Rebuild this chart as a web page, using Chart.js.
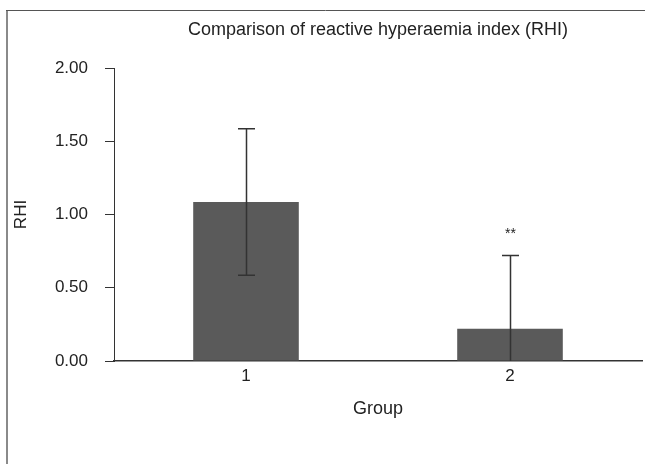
<!DOCTYPE html>
<html>
<head>
<meta charset="utf-8">
<script src="https://cdn.jsdelivr.net/npm/chart.js@4/dist/chart.umd.min.js"></script>
<style>
  html, body { margin: 0; padding: 0; background: #fff; }
  #wrap { position: relative; width: 645px; height: 464px; }
  canvas { display: block; }
</style>
</head>
<body>
<div id="wrap"><canvas id="c" width="645" height="464"></canvas></div>
<script>
// ---- data ----
const categories = ['1', '2'];
const meanRHI = [1.085, 0.22];
const sdRHI = [0.5, 0.5];
const significance = ['', '**'];
const yTicks = [0, 0.5, 1, 1.5, 2];
const chartTitle = 'Comparison of reactive hyperaemia index (RHI)';

const FONT = "'Liberation Sans', Arial, sans-serif";
const TEXT = '#222';
const AXIS = '#333';

const frame = {
  id: 'frame',
  beforeDraw(chart) {
    const ctx = chart.ctx;
    ctx.save();
    ctx.strokeStyle = '#8a8a8a';
    ctx.lineWidth = 2;
    ctx.beginPath();
    ctx.moveTo(7, 464); ctx.lineTo(7, 10.5);
    ctx.stroke();
    ctx.strokeStyle = '#555';
    ctx.lineWidth = 1;
    ctx.beginPath();
    ctx.moveTo(6, 10.5); ctx.lineTo(645, 10.5);
    ctx.stroke();
    ctx.restore();
  },
  afterDraw(chart) {
    const ctx = chart.ctx;
    const a = chart.chartArea;
    ctx.save();
    ctx.fillStyle = TEXT;
    ctx.font = '18px ' + FONT;
    ctx.textAlign = 'center';
    ctx.textBaseline = 'middle';
    ctx.fillText(chartTitle, (a.left + a.right) / 2, 30);
    ctx.restore();
  }
};

const errorBars = {
  id: 'errorBars',
  afterDatasetsDraw(chart) {
    const ctx = chart.ctx;
    const meta = chart.getDatasetMeta(0);
    const y = chart.scales.y;
    ctx.save();
    ctx.strokeStyle = AXIS;
    ctx.lineWidth = 1.5;
    meta.data.forEach((bar, i) => {
      const x = Math.round(bar.x) + 0.5;
      const lo = Math.max(0, meanRHI[i] - sdRHI[i]);
      const hi = meanRHI[i] + sdRHI[i];
      const yLo = y.getPixelForValue(lo);
      const yHi = y.getPixelForValue(hi);
      ctx.beginPath();
      ctx.moveTo(x, yLo); ctx.lineTo(x, yHi);
      ctx.moveTo(x - 8.5, yHi); ctx.lineTo(x + 8.5, yHi);
      if (meanRHI[i] - sdRHI[i] > 0) {
        ctx.moveTo(x - 8.5, yLo); ctx.lineTo(x + 8.5, yLo);
      }
      ctx.stroke();
      if (significance[i]) {
        ctx.fillStyle = TEXT;
        ctx.font = '14px ' + FONT;
        ctx.textAlign = 'center';
        ctx.textBaseline = 'middle';
        ctx.fillText(significance[i], x, yHi - 21);
      }
    });
    ctx.restore();
  }
};

new Chart(document.getElementById('c'), {
  type: 'bar',
  data: {
    labels: categories,
    datasets: [{
      data: meanRHI,
      backgroundColor: '#5a5a5a',
      borderWidth: 0,
      categoryPercentage: 0.4,
      barPercentage: 1.0
    }]
  },
  options: {
    responsive: false,
    animation: false,
    layout: { padding: { left: 0, right: 3, top: 68, bottom: 0 } },
    plugins: {
      legend: { display: false },
      tooltip: { enabled: false },
      title: { display: false }
    },
    scales: {
      x: {
        grid: { display: true, drawOnChartArea: false, drawTicks: false, color: AXIS },
        border: { display: true, color: AXIS, width: 1.5 },
        ticks: { color: TEXT, font: { family: FONT, size: 17 }, padding: 5 },
        title: {
          display: true, text: 'Group', color: TEXT,
          font: { family: FONT, size: 18 },
          padding: { top: 0, bottom: 44 }
        },
        afterFit(s) { s.height = 103; }
      },
      y: {
        min: 0, max: 2,
        afterBuildTicks(s) { s.ticks = yTicks.map(v => ({ value: v })); },
        grid: { display: true, drawOnChartArea: false, drawTicks: true, tickLength: 9, color: AXIS },
        border: { display: true, color: AXIS, width: 1 },
        ticks: {
          color: TEXT, font: { family: FONT, size: 17 }, padding: 17,
          callback: v => Number(v).toFixed(2)
        },
        title: {
          display: true, text: 'RHI', color: TEXT,
          font: { family: FONT, size: 17 },
          padding: { top: 11, bottom: 0 }
        },
        afterFit(s) { s.width = 114; }
      }
    }
  },
  plugins: [frame, errorBars]
});
</script>
</body>
</html>
